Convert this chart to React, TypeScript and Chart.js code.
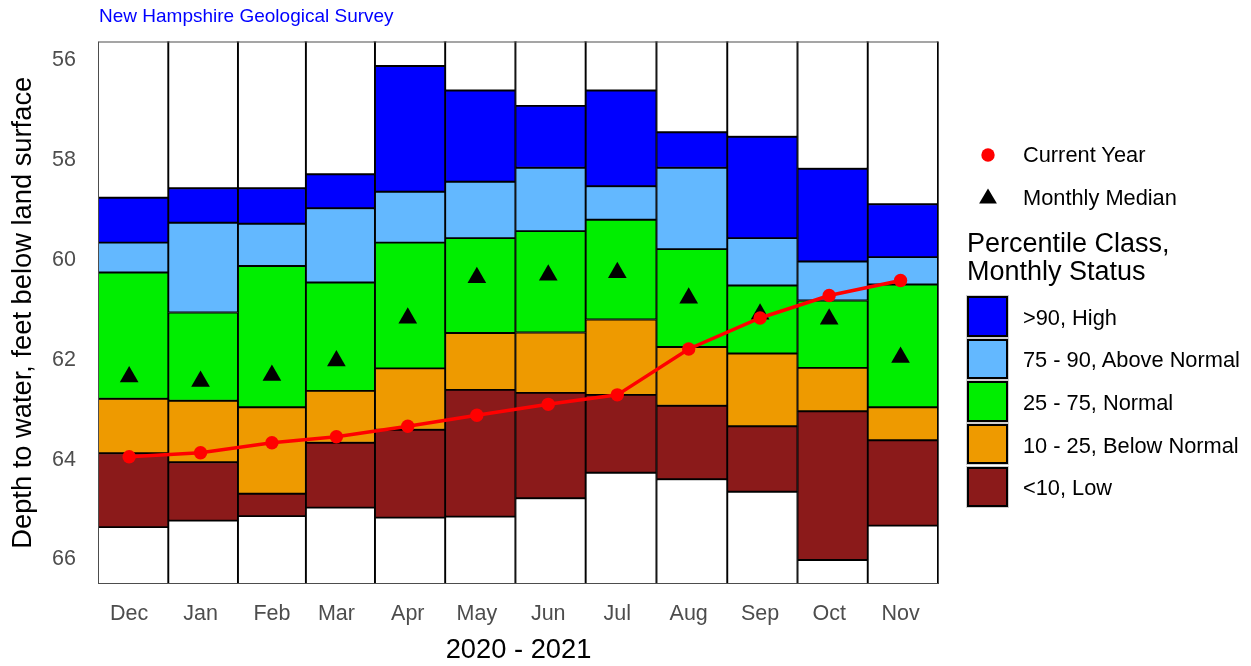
import React, { useEffect, useRef } from 'react';
import { Chart, registerables } from 'chart.js';

Chart.register(...registerables);

// ---------------- data (depth to water, feet below land surface) ----------------
const MONTHS = ['Dec', 'Jan', 'Feb', 'Mar', 'Apr', 'May', 'Jun', 'Jul', 'Aug', 'Sep', 'Oct', 'Nov'];
const MONTH_STARTS = [
  '2020-12-01', '2021-01-01', '2021-02-01', '2021-03-01', '2021-04-01', '2021-05-01',
  '2021-06-01', '2021-07-01', '2021-08-01', '2021-09-01', '2021-10-01', '2021-11-01',
];
const PERIOD_END = '2021-12-01';

// top of the ">90, High" band (shallowest depth on record)
const RECORD_HIGH = [58.75, 58.56, 58.56, 58.28, 56.11, 56.60, 56.91, 56.60, 57.44, 57.53, 58.17, 58.88];
const P90 = [59.65, 59.25, 59.27, 58.96, 58.63, 58.43, 58.15, 58.52, 58.15, 59.56, 60.03, 59.94];
const P75 = [60.25, 61.05, 60.12, 60.45, 59.65, 59.56, 59.42, 59.19, 59.78, 60.51, 60.81, 60.49];
const P25 = [62.78, 62.82, 62.95, 62.62, 62.17, 61.46, 61.45, 61.19, 61.74, 61.87, 62.16, 62.95];
const P10 = [63.87, 64.05, 64.68, 63.66, 63.40, 62.60, 62.66, 62.70, 62.92, 63.33, 63.03, 63.61];
// bottom of the "<10, Low" band (deepest depth on record)
const RECORD_LOW = [65.35, 65.22, 65.13, 64.96, 65.16, 65.14, 64.77, 64.26, 64.39, 64.64, 66.01, 65.32];

const MONTHLY_MEDIAN = [62.34, 62.43, 62.31, 62.02, 61.16, 60.35, 60.30, 60.25, 60.76, 61.08, 61.18, 61.95];
const CURRENT_YEAR = [63.94, 63.86, 63.66, 63.54, 63.33, 63.11, 62.89, 62.70, 61.78, 61.16, 60.71, 60.41];

const Y_TICKS = [56, 58, 60, 62, 64, 66];
const Y_MIN = 55.62;
const Y_MAX = 66.49;
const X_MIN = 0.47;
const X_MAX = 365.7;

const CLASS_LABELS = ['>90, High', '75 - 90, Above Normal', '25 - 75, Normal', '10 - 25, Below Normal', '<10, Low'];
const CLASS_COLORS = ['#0000FF', '#63B8FF', '#00EE00', '#EE9A00', '#8B1A1A'];

// ---------------- derived positions (days since 1 Dec 2020) ----------------
const DAY = 86400000;
const ORIGIN = Date.parse(MONTH_STARTS[0]);
const dayOf = (d: string) => (Date.parse(d) - ORIGIN) / DAY;
const startDays = MONTH_STARTS.map(dayOf);
const endDays = startDays.map((s, i) => (i < startDays.length - 1 ? startDays[i + 1] : dayOf(PERIOD_END)));
const centerDays = startDays.map((s, i) => (s + endDays[i]) / 2);
const midMonthDays = startDays.map((s) => s + 14); // the 15th of each month

const FONT = "'Liberation Sans', Arial, Helvetica, sans-serif";

const framePlugin = {
  id: 'panelFrame',
  afterDatasetsDraw(chart: any) {
    const { ctx, chartArea: a } = chart;
    ctx.save();
    ctx.strokeStyle = '#4D4D4D';
    ctx.lineWidth = 1;
    ctx.strokeRect(a.left + 0.5, a.top + 0.5, a.right - a.left - 1, a.bottom - a.top - 1);
    ctx.restore();
  },
};

function band(label: string, color: string, lo: number[], hi: number[]) {
  return {
    type: 'bar' as const,
    label,
    data: centerDays.map((x, i) => ({ x, y: [lo[i], hi[i]] })),
    backgroundColor: color,
    borderColor: '#000000',
    borderWidth: 1.3,
    borderSkipped: false,
    barThickness: 'flex' as const,
    categoryPercentage: 1,
    barPercentage: 1,
    stack: 'bands',
    clip: 0,
    order: 3,
  };
}

export default function App() {
  const canvasRef = useRef<HTMLCanvasElement | null>(null);

  useEffect(() => {
    document.body.style.margin = '0';
    const canvas = canvasRef.current;
    if (!canvas) return;
    const topWhite = RECORD_HIGH.map(() => Y_MIN - 2);
    const bottomWhite = RECORD_LOW.map(() => Y_MAX + 2);

    const chart = new Chart(canvas, {
      type: 'bar',
      data: {
        datasets: [
          {
            type: 'line',
            label: 'Current Year',
            data: midMonthDays.map((x, i) => ({ x, y: CURRENT_YEAR[i] })),
            borderColor: '#FF0000',
            backgroundColor: '#FF0000',
            borderWidth: 3.5,
            pointRadius: 6.7,
            pointBorderWidth: 0,
            pointBackgroundColor: '#FF0000',
            tension: 0,
            order: 0,
          } as any,
          {
            type: 'line',
            label: 'Monthly Median',
            data: midMonthDays.map((x, i) => ({ x, y: MONTHLY_MEDIAN[i] })),
            showLine: false,
            pointStyle: 'triangle',
            pointRadius: 10.8,
            pointBorderWidth: 0,
            pointBackgroundColor: '#000000',
            backgroundColor: '#000000',
            borderColor: '#000000',
            order: 1,
          } as any,
          band('above record', '#FFFFFF', topWhite, RECORD_HIGH),
          band(CLASS_LABELS[0], CLASS_COLORS[0], RECORD_HIGH, P90),
          band(CLASS_LABELS[1], CLASS_COLORS[1], P90, P75),
          band(CLASS_LABELS[2], CLASS_COLORS[2], P75, P25),
          band(CLASS_LABELS[3], CLASS_COLORS[3], P25, P10),
          band(CLASS_LABELS[4], CLASS_COLORS[4], P10, RECORD_LOW),
          band('below record', '#FFFFFF', RECORD_LOW, bottomWhite),
        ] as any,
      },
      options: {
        responsive: false,
        animation: false,
        devicePixelRatio: 1,
        layout: { padding: { left: 0, top: 41.5, right: 312, bottom: 0 } },
        plugins: {
          legend: { display: false },
          tooltip: { enabled: false },
          title: { display: false },
        },
        scales: {
          x: {
            type: 'linear',
            min: X_MIN,
            max: X_MAX,
            offset: false,
            stacked: true,
            grid: { display: false, drawTicks: false, tickLength: 0 },
            border: { display: false },
            afterBuildTicks: (scale: any) => {
              scale.ticks = midMonthDays.map((v) => ({ value: v }));
            },
            ticks: {
              autoSkip: false,
              maxRotation: 0,
              minRotation: 0,
              padding: 17.5,
              color: '#4D4D4D',
              font: { family: FONT, size: 21.5 },
              callback: (_v: any, i: number) => MONTHS[i],
            },
            title: {
              display: true,
              text: '2020 - 2021',
              color: '#000000',
              font: { family: FONT, size: 27.3, lineHeight: 1 },
              padding: { top: 0, bottom: 1.8 },
            },
            afterFit: (scale: any) => {
              scale.height = 82;
            },
          },
          y: {
            type: 'linear',
            reverse: true,
            min: Y_MIN,
            max: Y_MAX,
            stacked: false,
            beginAtZero: false,
            grid: { display: false, drawTicks: false, tickLength: 0 },
            border: { display: false },
            afterBuildTicks: (scale: any) => {
              scale.ticks = Y_TICKS.map((v) => ({ value: v }));
            },
            ticks: {
              padding: 22,
              color: '#4D4D4D',
              font: { family: FONT, size: 21.5 },
              callback: (v: any) => String(v),
            },
            title: {
              display: true,
              text: 'Depth to water, feet below land surface',
              color: '#000000',
              font: { family: FONT, size: 27.3, lineHeight: 1 },
              padding: { top: 10.2, bottom: 0 },
            },
            afterFit: (scale: any) => {
              scale.width = 98;
            },
          },
        },
      } as any,
      plugins: [framePlugin],
    });
    return () => chart.destroy();
  }, []);

  const legendText: React.CSSProperties = {
    position: 'absolute',
    left: 1023,
    height: 30,
    lineHeight: '30px',
    fontFamily: FONT,
    fontSize: 21.8,
    color: '#000000',
    whiteSpace: 'nowrap',
  };
  const boxTop = (i: number) => 296 + i * 42.65;

  return (
    <div style={{ position: 'fixed', left: 0, top: 0, width: 1251, height: 666, background: '#FFFFFF', overflow: 'hidden' }}>
      <canvas ref={canvasRef} width={1251} height={666} style={{ position: 'absolute', left: 0, top: 0, width: 1251, height: 666 }} />
      <div
        style={{
          position: 'absolute', left: 99, top: 6, height: 20, lineHeight: '20px',
          fontFamily: FONT, fontSize: 19, color: '#0000FF', whiteSpace: 'nowrap',
        }}
      >
        New Hampshire Geological Survey
      </div>

      <svg width={1251} height={666} style={{ position: 'absolute', left: 0, top: 0, pointerEvents: 'none' }}>
        <circle cx={988} cy={155} r={6.7} fill="#FF0000" />
        <polygon points="988,188.5 996.9,203.5 979.1,203.5" fill="#000000" />
      </svg>
      <div style={{ ...legendText, top: 155 - 15 }}>Current Year</div>
      <div style={{ ...legendText, top: 198.3 - 15 }}>Monthly Median</div>

      <div
        style={{
          position: 'absolute', left: 967, top: 229, lineHeight: '28.4px',
          fontFamily: FONT, fontSize: 27, color: '#000000', whiteSpace: 'nowrap',
        }}
      >
        <div>Percentile Class,</div>
        <div>Monthly Status</div>
      </div>

      {CLASS_LABELS.map((lab, i) => (
        <React.Fragment key={lab}>
          <div
            style={{
              position: 'absolute', left: 967, top: boxTop(i), width: 41, height: 40.5,
              boxSizing: 'border-box', border: '2px solid #000000', background: CLASS_COLORS[i],
              outline: '1px solid #CFCFCF',
            }}
          />
          <div style={{ ...legendText, top: boxTop(i) + 20.25 + 1.5 - 15 }}>{lab}</div>
        </React.Fragment>
      ))}
    </div>
  );
}
